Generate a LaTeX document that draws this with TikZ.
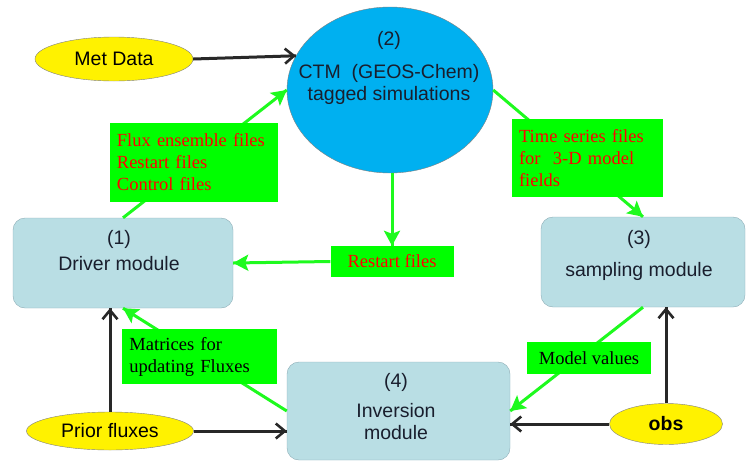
\documentclass[tikz,border=0pt]{standalone}
\usepackage{fontspec}
\setmainfont{Liberation Serif}
\newfontfamily\arialfont{Liberation Sans}
\usetikzlibrary{positioning, arrows.meta, decorations.markings, shapes.geometric, calc}

\definecolor{modfill}{RGB}{185,222,228}
\definecolor{modline}{RGB}{140,172,182}
\definecolor{ctmblue}{RGB}{0,176,240}
\definecolor{boxgreen}{RGB}{0,255,0}
\definecolor{flowgreen}{RGB}{30,250,30}
\definecolor{darkline}{RGB}{40,40,40}
\definecolor{modtext}{RGB}{25,30,45}

\begin{document}
\begin{tikzpicture}[%
		x=1pt, y=-1pt,
		module/.style={
			rectangle,
			rounded corners=12pt,
			fill=modfill,
			draw=modline,
			thin
		},
		modtext/.style={
			align=center,
			text=modtext,
			inner sep=0pt,
			font=\arialfont\fontsize{19.5}{22}\selectfont
		},
		datain/.style={
			ellipse,
			fill=yellow,
			draw=gray,
			thin,
			inner sep=0pt,
			text=black,
			font=\arialfont\fontsize{19.5}{22}\selectfont
		},
		filebox/.style={
			rectangle,
			fill=boxgreen,
			inner xsep=7pt,
			inner ysep=0pt,
			align=left,
			text=red,
			font=\fontsize{18.5}{22}\selectfont
		},
		greenarrow/.style={
			line width=3pt,
			flowgreen,
			decoration={markings,mark=at position 1 with {\arrow{Stealth[length=15pt,width=16pt,inset=3pt]}}},
			postaction={decorate}
		},
		blackarrow/.style={
			line width=3pt,
			darkline,
			decoration={markings,mark=at position 1 with {\arrow{Straight Barb[length=9pt,width=15pt,line width=2.6pt]}}},
			postaction={decorate}
		}]

		\useasboundingbox (0,0) rectangle (747,461);

		% MODULES

		\node (ctm) [ellipse, fill=ctmblue, draw=gray, thin, minimum width=206pt, minimum height=166pt] at (390,90) {};
		\node (ctm-txt) [modtext] at (389,68) {(2)\\[11pt]CTM\ \ (GEOS-Chem)\\tagged simulations};

		\node (drv) [module, minimum width=220pt, minimum height=90pt] at (123,263) {};
		\node (drv-txt) [modtext] at (119,251) {(1)\\[4pt]Driver module};

		\node (samp) [module, minimum width=204pt, minimum height=90pt] at (643,262) {};
		\node (samp-txt) [modtext] at (639,255) {(3)\\[10pt]sampling module};

		\node (inv) [module, minimum width=223pt, minimum height=98pt] at (398.5,411) {};
		\node (inv-txt) [modtext] at (396,407) {(4)\\[8pt]Inversion\\module};

		% INPUTS

		\node (met) [datain, minimum width=158pt, minimum height=44pt] at (114,59) {Met Data};
		\node (pri) [datain, minimum width=167pt, minimum height=38pt] at (110,431) {Prior fluxes};
		\node (obs) [datain, minimum width=113pt, minimum height=41pt] at (666,424) {\bfseries obs};

		\node (rst) [filebox, align=center, minimum width=123pt, minimum height=31pt] at (392,261.5) {Restart files};

		% GREEN LINES

		\draw[greenarrow] (drv.north) -- node[filebox, pos=.433, text width=154pt, minimum height=79pt] (flux) {Flux ensemble files\\Restart files\\Control files} (ctm.west);
		\draw[greenarrow] (ctm.east) -- node[filebox, pos=.63, yshift=12pt, text width=137pt, minimum height=78pt] (tsf) {Time series files\\for\ \ 3-D model\\fields} (samp.north);
		\draw[greenarrow] (inv.west) -- node[filebox, pos=.53, text=black, text width=141pt, minimum height=55pt] (mtx) {Matrices for\\updating Fluxes} (drv.south);
		\draw[greenarrow] (samp.south) -- node[filebox, pos=.406, yshift=-9pt, text=black, align=center, minimum width=124pt, minimum height=32pt] (mv) {Model values} (inv.east);
		\draw[greenarrow] (rst.north |- ctm.south) -- (rst.north);
		\draw[greenarrow] (rst.west) -- (drv.east);

		% BLACK LINES

		\draw[blackarrow] (met.east) -- (ctm.160);
		\draw[blackarrow] (pri.north) -- (pri.north |- drv.south);
		\draw[blackarrow] (pri.east) -- (pri.east -| inv.west);
		\draw[blackarrow] (obs.north) -- (obs.north |- samp.south);
		\draw[blackarrow] (obs.west) -- (obs.west -| inv.east);
\end{tikzpicture}
\end{document}
